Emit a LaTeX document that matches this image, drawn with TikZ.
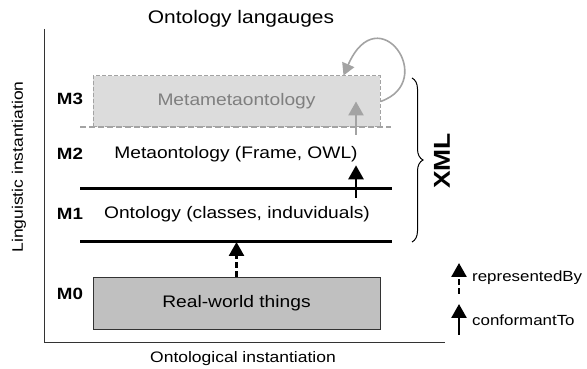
\documentclass[tikz,border=0pt]{standalone}
\usepackage{fontspec}
\setmainfont{Liberation Sans}[FakeStretch=1.15]
\usetikzlibrary{arrows.meta,decorations.pathreplacing}
\definecolor{cAxis}{HTML}{333333}
\definecolor{cMeta}{HTML}{DCDCDC}
\definecolor{cMetaLine}{HTML}{A3A3A3}
\definecolor{cMetaTxt}{HTML}{7F7F7F}
\definecolor{cReal}{HTML}{C0C0C0}

\begin{document}
\begin{tikzpicture}[x=1pt, y=1pt,
  txt/.style={font=\fontsize{16.7}{20}\selectfont},
  lvl/.style={font=\bfseries\fontsize{16.3}{20}\selectfont},
  axlab/.style={font=\fontsize{15.2}{18}\selectfont},
  leg/.style={font=\fontsize{14.7}{18}\selectfont, anchor=west, inner sep=0pt},
  layer/.style={draw=#1, minimum width=287pt, minimum height=52pt, inner sep=0pt},
  sep/.style={line width=3pt},
  >={Triangle[length=14pt,width=15pt]}]
  \useasboundingbox (0,0) rectangle (587,369);
  % axes
  \coordinate (org) at (44,26);
  \coordinate (ytop) at (44,340);
  \coordinate (xend) at (445,26);
  \draw[cAxis, line width=1pt] (ytop) -- (org) -- (xend);
  \node[font=\fontsize{18.2}{22}\selectfont] (title) at (241,350) {Ontology langauges};
  \node[axlab, rotate=90] (ling) at (19,202) {Linguistic instantiation};
  \node[axlab] (onto) at (243,10) {Ontological instantiation};
  % levels
  \foreach \y/\m in {270/M3,215/M2,155/M1,75/M0} \node[lvl] (\m) at (70,\y) {\m};
  \node[layer=cMetaLine, fill=cMeta, line width=1pt, dash pattern=on 4pt off 2pt, minimum height=51pt,
        txt, text=cMetaTxt] (mm) at (236.5,267.5) {Metametaontology};
  \draw[cMetaLine, line width=2.4pt, dash pattern=on 6pt off 3pt] (80,242) coordinate (l23w) -- (391,242) coordinate (l23e);
  \foreach \y/\n in {180/l12,127/l01} \draw[sep] (80,\y) coordinate (\n w) -- (392,\y) coordinate (\n e);
  \node[txt] (mont) at (236,215) {Metaontology (Frame, OWL)};
  \node[txt] (ont) at (237,155) {Ontology (classes, induviduals)};
  \node[layer=cAxis, fill=cReal, line width=0.9pt, txt] (real) at (236.5,66) {Real-world things};
  % arrows
  \draw[->, line width=2.6pt, dash pattern=on 6pt off 3pt] (real.north) -- (real.north |- l01w);
  \coordinate (up1) at (356,171);
  \draw[->, line width=2.6pt] (up1) -- (up1 |- mont.south);
  \coordinate (up2) at (356,234);
  \draw[->, cMetaLine, line width=2.6pt] (up2) -- (up2 |- mm.center);
  \coordinate (loopend) at ([xshift=-37pt]mm.north east);
  \draw[cMetaLine, line width=1.6pt, -{Triangle[length=12pt,width=13pt]}]
       (mm.east) .. controls +(58,20) and +(35,80) .. (loopend);
  % XML brace
  \coordinate (brtop) at (412,291);
  \coordinate (brbot) at (412,127);
  \draw[decorate, decoration={brace, amplitude=11pt}, line width=1pt] (brtop) -- (brbot);
  \node[font=\bfseries\fontsize{23}{26}\selectfont, rotate=90] (xml) at (442,208) {XML};
  % legend
  \node[leg] (rbtxt) at (472,91) {representedBy};
  \node[leg] (cttxt) at (472,49) {conformantTo};
  \coordinate (rb0) at (459,75);
  \coordinate (ct0) at (459,34);
  \draw[->, line width=2.6pt, dash pattern=on 6pt off 3pt] (rb0) -- ++(0,31);
  \draw[->, line width=2.6pt] (ct0) -- ++(0,31);
\end{tikzpicture}
\end{document}
